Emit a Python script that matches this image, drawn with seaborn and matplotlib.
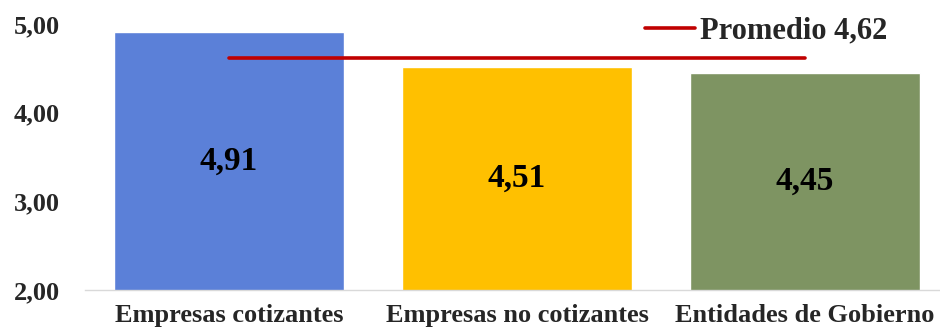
import pandas as pd
import numpy as np
import matplotlib.pyplot as plt
import seaborn as sns

# Data
categorias = ["Empresas cotizantes", "Empresas no cotizantes", "Entidades de Gobierno"]
valores = [4.91, 4.51, 4.45]
etiquetas = ["4,91", "4,51", "4,45"]
promedio = 4.62
colores = ["#5B80D8", "#FFC000", "#7E9462"]
yticks = [2.0, 3.0, 4.0, 5.0]
ytick_labels = ["2,00", "3,00", "4,00", "5,00"]

sns.set_style("white")
plt.rcParams['font.family'] = ['Liberation Serif', 'DejaVu Serif']
plt.rcParams['font.weight'] = 'bold'

df = pd.DataFrame({"categoria": categorias, "valor": valores})

fig = plt.figure(figsize=(9.4, 3.28), dpi=100)
ax = fig.add_axes([85 / 940, (328 - 290) / 328, 864 / 940, 266 / 328])

sns.barplot(
    data=df,
    x="categoria",
    y="valor",
    hue="categoria",
    palette=colores,
    saturation=1,
    width=0.8,
    legend=False,
    ax=ax
)

# Value labels in the middle of each bar
for i, (v, t) in enumerate(zip(valores, etiquetas)):
    ax.text(i, (2.0 + v) / 2, t, ha="center", va="center",
            fontsize=24, fontweight="bold", color="black")

# Average line
ax.plot([0, 2], [promedio, promedio], color="#C00000", lw=2.6,
        solid_capstyle="round", label="Promedio 4,62")

ax.set_ylim(2.0, 5.0)
ax.set_xlim(-0.5, 2.5)
ax.set_yticks(yticks)
ax.set_yticklabels(ytick_labels, fontsize=19, fontweight="bold")
ax.set_xticks(range(len(categorias)))
ax.set_xticklabels(categorias, fontsize=19, fontweight="bold")
ax.tick_params(axis="y", length=0, pad=18)
ax.tick_params(axis="x", length=0, pad=10)
ax.set_xlabel("")
ax.set_ylabel("")

sns.despine(ax=ax, left=True, top=True, right=True)
ax.spines["bottom"].set_color("#D9D9D9")
ax.spines["bottom"].set_linewidth(1.0)

leg = fig.legend(
    loc="center left",
    bbox_to_anchor=(645 / 940, (328 - 31) / 328),
    frameon=False,
    borderpad=0,
    borderaxespad=0,
    handlelength=1.65,
    handletextpad=0.15,
    prop={"size": 22, "weight": "bold"}
)

fig.savefig("out.png", dpi=100)
